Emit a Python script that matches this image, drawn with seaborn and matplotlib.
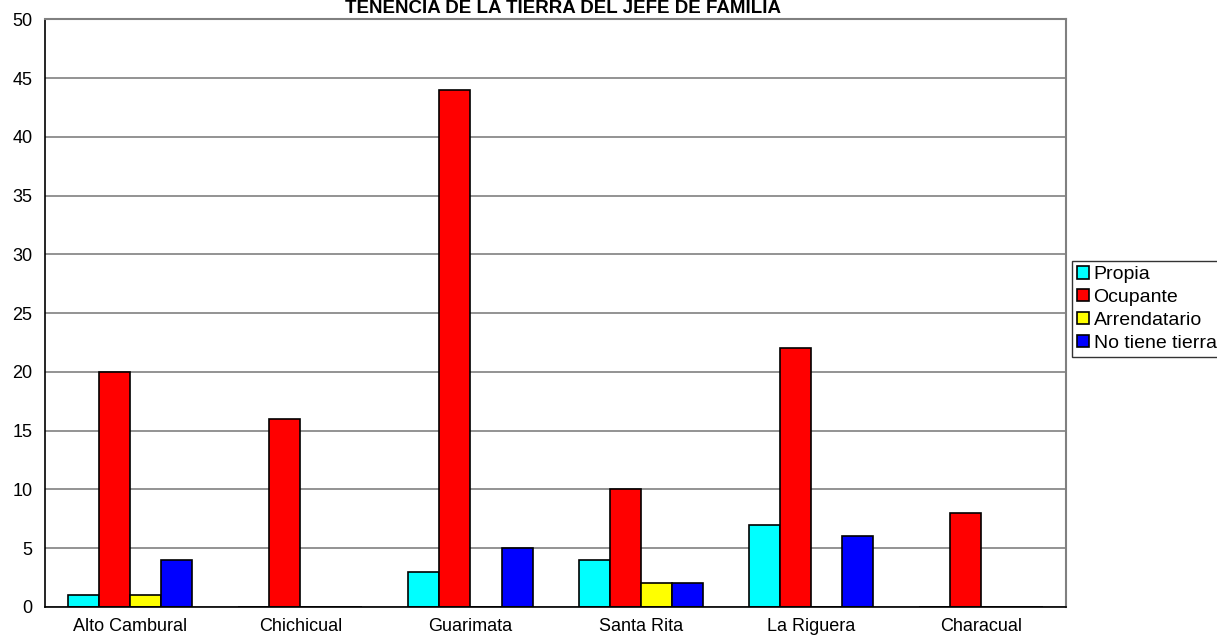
import pandas as pd
import seaborn as sns
from matplotlib import pyplot as plt

# values
localidades = ["Alto Cambural", "Chichicual", "Guarimata", "Santa Rita", "La Riguera", "Characual"]
propia = [1, 0, 3, 4, 7, 0]
ocupante = [20, 16, 44, 10, 22, 8]
arrendatario = [1, 0, 0, 2, 0, 0]
sin_tierra = [4, 0, 5, 2, 6, 0]

series = ["Propia", "Ocupante", "Arrendatario", "No tiene tierra"]
colores = ["#00FFFF", "#FF0000", "#FFFF00", "#0000FF"]

df = pd.DataFrame({"Localidad": localidades, "Propia": propia, "Ocupante": ocupante,
                   "Arrendatario": arrendatario, "No tiene tierra": sin_tierra})
largo = df.melt(id_vars="Localidad", var_name="Tenencia", value_name="Jefes")

sns.set_style("white")
plt.rcParams['font.family'] = ['Liberation Sans', 'DejaVu Sans']
plt.rcParams['text.color'] = 'black'
plt.rcParams['xtick.color'] = 'black'
plt.rcParams['ytick.color'] = 'black'

fig = plt.figure(figsize=(12.17, 6.36), dpi=100)
ax = fig.add_axes([0.037, 0.0456, 0.839, 0.924])

sns.barplot(data=largo, x="Localidad", y="Jefes", hue="Tenencia", hue_order=series,
            palette=colores, width=0.73, edgecolor="black", linewidth=1.2,
            saturation=1, errorbar=None, ax=ax)

ax.set_ylim(0, 50)
ax.set_xlim(-0.5, len(localidades) - 0.5)
ax.set_yticks(range(0, 51, 5))
ax.yaxis.grid(True, color="#808080", linewidth=1.2)
ax.set_axisbelow(True)

# ticks between categories, labels centred
ax.set_xticks([i + 0.5 for i in range(-1, len(localidades))], minor=False)
ax.set_xticklabels([])
ax.set_xticks(range(len(localidades)), minor=True)
ax.set_xticklabels(localidades, minor=True)
ax.tick_params(axis="x", which="major", direction="out", length=5, color="black", width=1)
ax.tick_params(axis="x", which="minor", length=0, labelsize=13, pad=8)
ax.tick_params(axis="y", direction="out", length=5, color="black", width=1, labelsize=13, pad=4)

ax.set_xlabel("")
ax.set_ylabel("")
for lado in ["left", "bottom"]:
    ax.spines[lado].set_color("black")
    ax.spines[lado].set_linewidth(1.2)
for lado in ["top", "right"]:
    ax.spines[lado].set_color("#808080")
    ax.spines[lado].set_linewidth(1.5)

fig.text(0.463, 1.0, "TENENCIA DE LA TIERRA DEL JEFE DE FAMILIA", ha="center", va="top",
         fontsize=13.5, fontweight="bold")

leg = ax.legend(loc="upper left", bbox_to_anchor=(0.881, 0.589), bbox_transform=fig.transFigure,
                frameon=True, fancybox=False, edgecolor="black", fontsize=14,
                handlelength=0.6, handleheight=0.6, handletextpad=0.25, borderpad=0.25,
                labelspacing=0.3, borderaxespad=0)
leg.get_frame().set_linewidth(1)

fig.savefig("out.png", dpi=100)
